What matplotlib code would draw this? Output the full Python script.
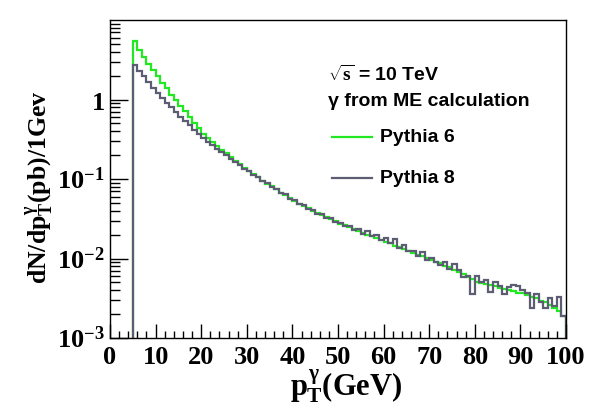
import numpy as np
import matplotlib
matplotlib.use("Agg")
import matplotlib.pyplot as plt
from matplotlib.ticker import FixedLocator, FixedFormatter, LogLocator, NullFormatter, MultipleLocator

# Bin edges (1 GeV bins from 5 to 100 GeV)
bin_lo = 5
bin_hi = 100

# log10 of dN/dpT per bin (bins 5..99 GeV lower edge)
log10_pythia6 = [
    0.73, 0.62, 0.53, 0.45, 0.37, 0.29, 0.21, 0.14, 0.06, -0.01,
    -0.08, -0.15, -0.22, -0.29, -0.36, -0.43, -0.48, -0.53, -0.58, -0.63,
    -0.67, -0.72, -0.77, -0.81, -0.86, -0.90, -0.94, -0.98, -1.02, -1.06,
    -1.09, -1.13, -1.17, -1.20, -1.24, -1.28, -1.31, -1.34, -1.37, -1.40,
    -1.43, -1.45, -1.48, -1.50, -1.53, -1.56, -1.58, -1.61, -1.63, -1.65,
    -1.68, -1.70, -1.72, -1.74, -1.77, -1.79, -1.81, -1.84, -1.86, -1.88,
    -1.90, -1.93, -1.95, -1.97, -1.99, -2.02, -2.04, -2.06, -2.09, -2.11,
    -2.14, -2.17, -2.20, -2.23, -2.26, -2.30, -2.31, -2.32, -2.33, -2.35,
    -2.37, -2.38, -2.40, -2.41, -2.43, -2.44, -2.46, -2.48, -2.50, -2.53,
    -2.55, -2.58, -2.62, -2.66, -2.72,
]
log10_pythia8 = [
    0.44, 0.36, 0.29, 0.22, 0.15, 0.08, 0.02, -0.04, -0.10, -0.16,
    -0.22, -0.27, -0.32, -0.38, -0.43, -0.48, -0.53, -0.57, -0.62, -0.66,
    -0.70, -0.75, -0.79, -0.82, -0.88, -0.90, -0.95, -0.98, -1.03, -1.05,
    -1.10, -1.12, -1.18, -1.19, -1.25, -1.27, -1.32, -1.33, -1.38, -1.39,
    -1.44, -1.44, -1.49, -1.49, -1.54, -1.55, -1.59, -1.59, -1.64, -1.63,
    -1.69, -1.66, -1.72, -1.71, -1.77, -1.74, -1.80, -1.76, -1.87, -1.83,
    -1.91, -1.90, -1.97, -1.92, -2.02, -1.99, -2.04, -2.08, -2.04, -2.13,
    -2.07, -2.15, -2.23, -2.22, -2.45, -2.22, -2.30, -2.27, -2.42, -2.29,
    -2.35, -2.45, -2.36, -2.33, -2.35, -2.40, -2.44, -2.62, -2.45, -2.55,
    -2.62, -2.50, -2.60, -2.48, -2.72,
]

x_ticks = [0, 10, 20, 30, 40, 50, 60, 70, 80, 90, 100]
y_ticks = [1e-3, 1e-2, 1e-1, 1]
y_tick_labels = [r"$10^{-3}$", r"$10^{-2}$", r"$10^{-1}$", r"$1$"]

legend_title1 = r"$\sqrt{s}$ = 10 TeV"
legend_title2 = "γ from ME calculation"
series_names = ["Pythia 6", "Pythia 8"]
series_colors = ["#22e822", "#5c5c72"]

plt.rcParams["mathtext.fontset"] = "custom"
plt.rcParams["mathtext.rm"] = "Liberation Serif:bold"
plt.rcParams["mathtext.bf"] = "Liberation Serif:bold"
plt.rcParams["mathtext.it"] = "Liberation Serif:bold"

fig = plt.figure(figsize=(6.08, 4.08), dpi=100)
ax = fig.add_axes([110 / 608, 1 - 338 / 408, (566 - 110) / 608, (338 - 20) / 408])

edges = np.arange(bin_lo, bin_hi + 1)
for logv, col in zip([log10_pythia6, log10_pythia8], series_colors):
    vals = 10 ** np.array(logv)
    ax.stairs(vals, edges, baseline=1e-6, color=col, linewidth=1.6)

ax.set_yscale("log")
ax.set_xlim(0, 100)
ax.set_ylim(1e-3, 10)

ax.xaxis.set_major_locator(FixedLocator(x_ticks))
ax.xaxis.set_minor_locator(MultipleLocator(2))
ax.yaxis.set_major_locator(FixedLocator(y_ticks))
ax.yaxis.set_major_formatter(FixedFormatter(y_tick_labels))
ax.yaxis.set_minor_locator(LogLocator(base=10, subs=np.arange(2, 10)))
ax.yaxis.set_minor_formatter(NullFormatter())

ax.tick_params(axis="both", which="both", direction="in", top=False, right=False)
ax.tick_params(axis="x", which="major", length=10, width=1, pad=6)
ax.tick_params(axis="x", which="minor", length=5, width=1)
ax.tick_params(axis="y", which="major", length=13, width=1, pad=4)
ax.tick_params(axis="y", which="minor", length=7, width=1)

for lab in ax.get_xticklabels():
    lab.set_fontfamily("Liberation Serif")
    lab.set_fontweight("bold")
    lab.set_fontsize(19)
for lab in ax.get_yticklabels():
    lab.set_fontsize(19)

for sp in ax.spines.values():
    sp.set_linewidth(1.0)

ax.set_xlabel(r"$p_{T}^{\gamma}$(GeV)", fontfamily="Liberation Serif", fontweight="bold",
              fontsize=22, va="center")
ax.xaxis.set_label_coords((346 - 110) / 456, (338 - 386) / 318)
ax.set_ylabel(r"dN/d$p_{T}^{\gamma}$(pb)/1Gev", fontfamily="Liberation Serif", fontweight="bold",
              fontsize=18.5, va="center")
ax.yaxis.set_label_coords((40 - 110) / 456, (338 - 187) / 318)

# Legend-like text block
tf = ax.transAxes
def px2ax(x, y):
    return ((x - 110) / (566 - 110), (338 - y) / (338 - 20))

ax.text(*px2ax(328, 75), legend_title1, transform=tf, fontfamily="Liberation Sans",
        fontweight="bold", fontsize=14, va="center", ha="left")
ax.text(*px2ax(328, 101), legend_title2, transform=tf, fontfamily="Liberation Sans",
        fontweight="bold", fontsize=14, va="center", ha="left")
for name, col, y in zip(series_names, series_colors, [137, 178]):
    x0, yy = px2ax(332, y)
    x1, _ = px2ax(372, y)
    ax.plot([x0, x1], [yy, yy], transform=tf, color=col, linewidth=1.6)
    ax.text(*px2ax(380, y), name, transform=tf, fontfamily="Liberation Sans",
            fontweight="bold", fontsize=14, va="center", ha="left")

fig.savefig("out.png", dpi=100)
